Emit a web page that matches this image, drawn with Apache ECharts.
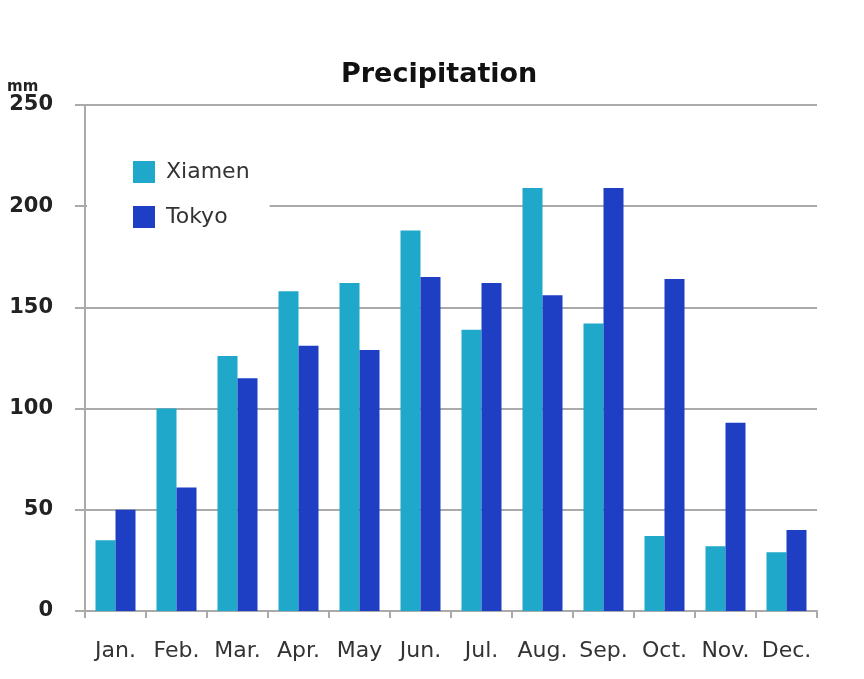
<!DOCTYPE html>
<html>
<head>
<meta charset="utf-8">
<title>Precipitation</title>
<script src="https://cdn.jsdelivr.net/npm/echarts@6/dist/echarts.min.js"></script>
<style>
    html, body { margin: 0; padding: 0; background: #fff; }
    #chart { width: 864px; height: 679px; }
</style>
</head>
<body>
<div id="chart"></div>
<script>
    // 月份
    var months = ['Jan.', 'Feb.', 'Mar.', 'Apr.', 'May', 'Jun.', 'Jul.', 'Aug.', 'Sep.', 'Oct.', 'Nov.', 'Dec.'];
    // 降水量 (mm)
    var xiamen = [35, 100, 126, 158, 162, 188, 139, 209, 142, 37, 32, 29];
    var tokyo = [50, 61, 115, 131, 129, 165, 162, 156, 209, 164, 93, 40];
    var yTicks = [0, 50, 100, 150, 200, 250];

    var option = {
        backgroundColor: '#fff',
        animation: false,
        title: {
            text: 'Precipitation',
            left: 336,
            top: 56,
            textStyle: {
                fontFamily: 'DejaVu Sans',
                fontWeight: 'bold',
                fontSize: 27,
                color: '#111'
            }
        },
        legend: {
            orient: 'vertical',
            left: 87,
            top: 150,
            padding: [11, 20, 12, 46],
            itemGap: 23,
            itemWidth: 22,
            itemHeight: 22,
            backgroundColor: '#fff',
            icon: 'rect',
            textStyle: {
                fontFamily: 'DejaVu Sans',
                fontSize: 22,
                color: '#333',
                padding: [0, 0, 0, 6]
            },
            data: ['Xiamen', 'Tokyo']
        },
        grid: {
            left: 85,
            right: 47,
            top: 105,
            bottom: 68
        },
        xAxis: {
            type: 'category',
            data: months,
            axisLine: { lineStyle: { color: '#aaa', width: 2 } },
            axisTick: { show: true, length: 7, lineStyle: { color: '#aaa', width: 2 } },
            axisLabel: {
                fontFamily: 'DejaVu Sans',
                fontSize: 22,
                color: '#333',
                margin: 29,
                interval: 0
            }
        },
        yAxis: {
            type: 'value',
            name: 'mm',
            nameLocation: 'end',
            nameGap: 12,
            nameTextStyle: {
                fontFamily: 'DejaVu Sans',
                fontWeight: 'bold',
                fontSize: 15,
                color: '#222',
                align: 'left',
                padding: [0, 0, -2, -78]
            },
            min: yTicks[0],
            max: yTicks[yTicks.length - 1],
            interval: yTicks[1] - yTicks[0],
            axisLine: { show: true, lineStyle: { color: '#aaa', width: 2 } },
            axisTick: { show: true, length: 10, lineStyle: { color: '#aaa', width: 2 } },
            splitLine: { lineStyle: { color: '#aaa', width: 2 } },
            axisLabel: {
                fontFamily: 'DejaVu Sans',
                fontWeight: 'bold',
                fontSize: 21,
                color: '#222',
                margin: 32
            }
        },
        series: [{
            name: 'Xiamen',
            type: 'bar',
            data: xiamen,
            barWidth: 20,
            barGap: '0%',
            itemStyle: { color: '#1fa8ca' }
        }, {
            name: 'Tokyo',
            type: 'bar',
            data: tokyo,
            barWidth: 20,
            itemStyle: { color: '#1e3fc4' }
        }]
    };

    var myChart = echarts.init(document.getElementById('chart'));
    myChart.setOption(option);
</script>
</body>
</html>
